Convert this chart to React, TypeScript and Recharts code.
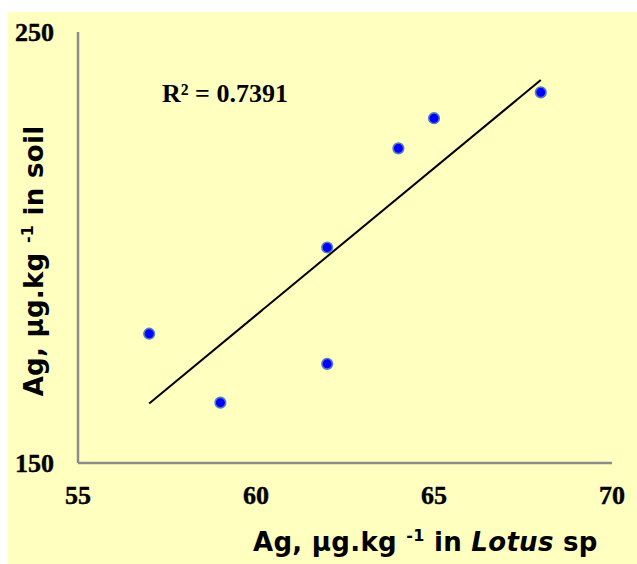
import { ScatterChart, Scatter, XAxis, YAxis, Customized } from "recharts";

// Ag concentration in Lotus sp (x) vs. in soil (y), µg/kg
const lotusAg = [57, 59, 62, 62, 64, 65, 68];
const soilAg = [180, 164, 200, 173, 223, 230, 236];

const xTicks = [55, 60, 65, 70];
const yTicks = [150, 250];
const rSquaredText = "R² = 0.7391";

const points = lotusAg.map((x, i) => ({ x, y: soilAg[i] }));

// least-squares fit, drawn between the smallest and largest x
function linearFit(xs: number[], ys: number[]) {
  const n = xs.length;
  const mx = xs.reduce((a, b) => a + b, 0) / n;
  const my = ys.reduce((a, b) => a + b, 0) / n;
  let sxy = 0;
  let sxx = 0;
  xs.forEach((x, i) => {
    sxy += (x - mx) * (ys[i] - my);
    sxx += (x - mx) * (x - mx);
  });
  const slope = sxy / sxx;
  const x0 = Math.min(...xs);
  const x1 = Math.max(...xs);
  return [
    { x: x0, y: my + slope * (x0 - mx) },
    { x: x1, y: my + slope * (x1 - mx) },
  ];
}

const trend = linearFit(lotusAg, soilAg);

const serif = "'Times New Roman', 'Liberation Serif', serif";
const sans = "Verdana, 'DejaVu Sans', sans-serif";

const tickStyle = {
  fontFamily: serif,
  fontWeight: 700,
  fontSize: 26,
  fill: "#000",
  stroke: "#000",
  strokeWidth: 0.4,
};

const XTick = ({ x, y, payload }: any) => (
  <text x={x} y={y + 41} textAnchor="middle" style={tickStyle}>
    {payload.value}
  </text>
);

const YTick = ({ x, y, payload }: any) => (
  <text x={x - 24} y={y + 8.5} textAnchor="end" style={tickStyle}>
    {payload.value}
  </text>
);

const Dot = ({ cx, cy }: any) => (
  <circle cx={cx} cy={cy} r={5.3} fill="#0000FF" stroke="#4F7FC0" strokeWidth={1.6} />
);

const Labels = () => (
  <g fill="#000">
    <text x={154} y={90} fontFamily={serif} fontWeight="bold" fontSize={26}>
      {rSquaredText}
    </text>
    <text x={245} y={539} fontFamily={sans} fontWeight="bold" fontSize={26} letterSpacing={0.3}>
      Ag, µg.kg{" "}
      <tspan fontSize={16} dy={-10}>-1</tspan>
      <tspan dy={10}> in </tspan>
      <tspan fontStyle="italic">Lotus</tspan> sp
    </text>
    <text
      x={0}
      y={0}
      transform="translate(35, 249) rotate(-90)"
      textAnchor="middle"
      fontFamily={sans}
      fontWeight="bold"
      fontSize={26}
      letterSpacing={0.3}
    >
      Ag, µg.kg{" "}
      <tspan fontSize={16} dy={-10}>-1</tspan>
      <tspan dy={10}> in soil</tspan>
    </text>
  </g>
);

export default function App() {
  return (
    <div style={{ position: "fixed", left: 8, top: 12, width: 629, height: 552, background: "#FFFFC0" }}>
      <ScatterChart width={629} height={552} margin={{ top: 20, right: 25, bottom: 0, left: 0 }}>
        <XAxis
          type="number"
          dataKey="x"
          domain={[55, 70]}
          ticks={xTicks}
          allowDataOverflow
          height={101}
          tickLine={false}
          tickSize={0}
          tickMargin={0}
          axisLine={{ stroke: "#8C8C8C", strokeWidth: 2.5 }}
          tick={<XTick />}
        />
        <YAxis
          type="number"
          dataKey="y"
          domain={[150, 250]}
          ticks={yTicks}
          allowDataOverflow
          width={70}
          tickLine={false}
          tickSize={0}
          tickMargin={0}
          axisLine={{ stroke: "#8C8C8C", strokeWidth: 2.5 }}
          tick={<YTick />}
        />
        <Scatter
          data={trend}
          line={{ stroke: "#000", strokeWidth: 2 }}
          shape={() => null}
          isAnimationActive={false}
        />
        <Scatter data={points} shape={<Dot />} isAnimationActive={false} />
        <Customized component={<Labels />} />
      </ScatterChart>
    </div>
  );
}
